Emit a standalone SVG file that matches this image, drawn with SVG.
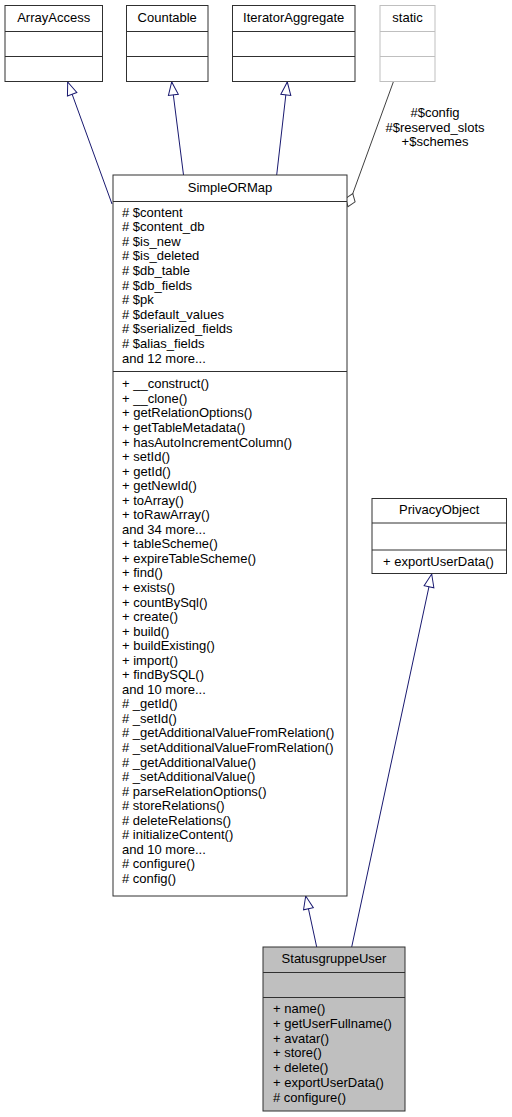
<svg xmlns="http://www.w3.org/2000/svg" width="512" height="1117" viewBox="0 0 512 1117">
<style>
text{font-family:"Liberation Sans",Arial,sans-serif;font-size:13px;fill:#000}
.c{text-anchor:middle}
.box{fill:#fff;stroke:#303030;stroke-width:1}
.gray{fill:#fff;stroke:#bfbfbf;stroke-width:1}
.cur{fill:#bfbfbf;stroke:#303030;stroke-width:1}
.sep{stroke:#303030;stroke-width:1}
.sepg{stroke:#bfbfbf;stroke-width:1}
.gen{fill:none;stroke:#191970;stroke-width:1;marker-end:url(#tri)}
.use{fill:none;stroke:#404040;stroke-width:1;marker-end:url(#dia)}
</style>
<defs>
<marker id="tri" viewBox="0 0 13 10" refX="13" refY="5" markerWidth="13" markerHeight="10" markerUnits="userSpaceOnUse" orient="auto" overflow="visible">
<path d="M0,0 L13,5 L0,10 Z" fill="#fff" stroke="#191970" stroke-width="1"/>
</marker>
<marker id="dia" viewBox="0 0 14 10" refX="14" refY="5" markerWidth="14" markerHeight="10" markerUnits="userSpaceOnUse" orient="auto" overflow="visible">
<path d="M0,5 L7,0 L14,5 L7,10 Z" fill="#fff" stroke="#404040" stroke-width="1"/>
</marker>
</defs>
<rect width="512" height="1117" fill="#fff"/>

<g id="connectors">
<path class="gen" d="M112,204 L67.7,82"/>
<path class="gen" d="M183.5,175 L171.7,82"/>
<path class="gen" d="M276.7,175 L287.3,82"/>
<path class="gen" d="M316.7,947 L305.7,896"/>
<path class="gen" d="M351.7,947 L431.7,574"/>
<path class="use" d="M393.3,82 L348,206.7"/>
<text class="c" x="435" y="117">#$config</text>
<text class="c" x="435" y="131.5">#$reserved_slots</text>
<text class="c" x="435" y="146">+$schemes</text>
</g>

<g id="ArrayAccess">
<rect class="box" x="5" y="5.5" width="97.5" height="76"/>
<line class="sep" x1="5" y1="31.5" x2="102.5" y2="31.5"/>
<line class="sep" x1="5" y1="56.5" x2="102.5" y2="56.5"/>
<text class="c" x="53.7" y="22">ArrayAccess</text>
</g>

<g id="Countable">
<rect class="box" x="126.5" y="5.5" width="81.5" height="76"/>
<line class="sep" x1="126.5" y1="31.5" x2="208" y2="31.5"/>
<line class="sep" x1="126.5" y1="56.5" x2="208" y2="56.5"/>
<text class="c" x="167.2" y="22">Countable</text>
</g>

<g id="IteratorAggregate">
<rect class="box" x="232.5" y="5.5" width="122.5" height="76"/>
<line class="sep" x1="232.5" y1="31.5" x2="355" y2="31.5"/>
<line class="sep" x1="232.5" y1="56.5" x2="355" y2="56.5"/>
<text class="c" x="293.7" y="22">IteratorAggregate</text>
</g>

<g id="static">
<rect class="gray" x="380" y="5.5" width="55" height="76"/>
<line class="sepg" x1="380" y1="31.5" x2="435" y2="31.5"/>
<line class="sepg" x1="380" y1="56.5" x2="435" y2="56.5"/>
<text class="c" x="407.5" y="22">static</text>
</g>

<g id="SimpleORMap">
<rect class="box" x="113" y="175" width="234" height="721"/>
<line class="sep" x1="113" y1="201.5" x2="347" y2="201.5"/>
<line class="sep" x1="113" y1="371.5" x2="347" y2="371.5"/>
<text class="c" x="230" y="191.7">SimpleORMap</text>
<text x="122" y="216.5"><tspan x="122">#&#160;$content</tspan><tspan x="122" dy="14.6"># $content_db</tspan><tspan x="122" dy="14.6"># $is_new</tspan><tspan x="122" dy="14.6"># $is_deleted</tspan><tspan x="122" dy="14.6"># $db_table</tspan><tspan x="122" dy="14.6"># $db_fields</tspan><tspan x="122" dy="14.6"># $pk</tspan><tspan x="122" dy="14.6"># $default_values</tspan><tspan x="122" dy="14.6"># $serialized_fields</tspan><tspan x="122" dy="14.6"># $alias_fields</tspan><tspan x="122" dy="14.6">and 12 more...</tspan></text>
<text x="122" y="388.3"><tspan x="122">+ __construct()</tspan><tspan x="122" dy="14.55">+ __clone()</tspan><tspan x="122" dy="14.55">+ getRelationOptions()</tspan><tspan x="122" dy="14.55">+ getTableMetadata()</tspan><tspan x="122" dy="14.55">+ hasAutoIncrementColumn()</tspan><tspan x="122" dy="14.55">+ setId()</tspan><tspan x="122" dy="14.55">+ getId()</tspan><tspan x="122" dy="14.55">+ getNewId()</tspan><tspan x="122" dy="14.55">+ toArray()</tspan><tspan x="122" dy="14.55">+ toRawArray()</tspan><tspan x="122" dy="14.55">and 34 more...</tspan><tspan x="122" dy="14.55">+ tableScheme()</tspan><tspan x="122" dy="14.55">+ expireTableScheme()</tspan><tspan x="122" dy="14.55">+ find()</tspan><tspan x="122" dy="14.55">+ exists()</tspan><tspan x="122" dy="14.55">+ countBySql()</tspan><tspan x="122" dy="14.55">+ create()</tspan><tspan x="122" dy="14.55">+ build()</tspan><tspan x="122" dy="14.55">+ buildExisting()</tspan><tspan x="122" dy="14.55">+ import()</tspan><tspan x="122" dy="14.55">+ findBySQL()</tspan><tspan x="122" dy="14.55">and 10 more...</tspan><tspan x="122" dy="14.55"># _getId()</tspan><tspan x="122" dy="14.55"># _setId()</tspan><tspan x="122" dy="14.55"># _getAdditionalValueFromRelation()</tspan><tspan x="122" dy="14.55"># _setAdditionalValueFromRelation()</tspan><tspan x="122" dy="14.55"># _getAdditionalValue()</tspan><tspan x="122" dy="14.55"># _setAdditionalValue()</tspan><tspan x="122" dy="14.55"># parseRelationOptions()</tspan><tspan x="122" dy="14.55"># storeRelations()</tspan><tspan x="122" dy="14.55"># deleteRelations()</tspan><tspan x="122" dy="14.55"># initializeContent()</tspan><tspan x="122" dy="14.55">and 10 more...</tspan><tspan x="122" dy="14.55"># configure()</tspan><tspan x="122" dy="14.55"># config()</tspan></text>
</g>

<g id="PrivacyObject">
<rect class="box" x="372" y="498.5" width="134.5" height="75"/>
<line class="sep" x1="372" y1="523" x2="506.5" y2="523"/>
<line class="sep" x1="372" y1="550" x2="506.5" y2="550"/>
<text class="c" x="439.2" y="514">PrivacyObject</text>
<text x="383" y="566">+ exportUserData()</text>
</g>

<g id="StatusgruppeUser">
<rect class="cur" x="263" y="947" width="142" height="164"/>
<line class="sep" x1="263" y1="972.5" x2="405" y2="972.5"/>
<line class="sep" x1="263" y1="997.5" x2="405" y2="997.5"/>
<text class="c" x="334" y="962.7">StatusgruppeUser</text>
<text x="273" y="1013.3"><tspan x="273">+ name()</tspan><tspan x="273" dy="14.7">+ getUserFullname()</tspan><tspan x="273" dy="14.7">+ avatar()</tspan><tspan x="273" dy="14.7">+ store()</tspan><tspan x="273" dy="14.7">+ delete()</tspan><tspan x="273" dy="14.7">+ exportUserData()</tspan><tspan x="273" dy="14.7"># configure()</tspan></text>
</g>
</svg>
